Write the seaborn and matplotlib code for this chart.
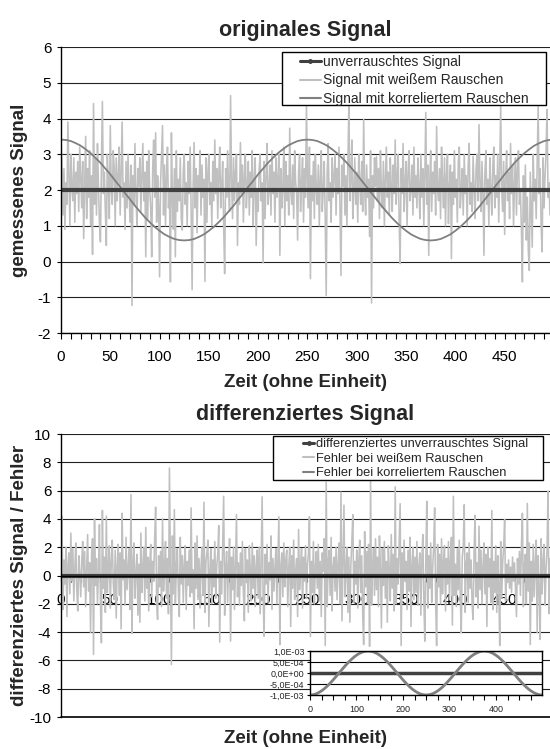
import numpy as np
import matplotlib
matplotlib.use("Agg")
import matplotlib.pyplot as plt
from matplotlib.lines import Line2D
from matplotlib.patches import Rectangle
from matplotlib.ticker import MultipleLocator, FuncFormatter
import seaborn as sns

# --- values ---
# top: measured signal with white noise, one sample per time unit
white_noise_signal = [
    3.4, 2.7, 1.3, 2.6, 0.9, 2.2, 1.6, 3.9, 2.4, 1.0, 3.0, 2.1, 1.7, 2.9, 1.1, 2.5, 1.9, 2.8, 1.4, 3.2,
    2.3, 1.5, 2.8, 0.64, 2.0, 3.5, 1.2, 2.6, 1.8, 3.1, 1.0, 2.4, 0.2, 4.42, 1.6, 2.9, 1.3, 3.3, 2.1, 1.1,
    0.55, 2.7, 4.48, 1.9, 2.5, 1.4, 0.45, 3.0, 2.2, 1.2, 3.8, 2.0, 1.6, 3.1, 2.6, 1.0, 2.9, 1.7, 2.4, 3.2,
    1.3, 2.5, 3.9, 1.8, 2.2, 0.9, 2.8, 1.5, 3.0, 2.0, 1.1, 2.7, -1.23, 2.4, 1.6, 3.3, 1.9, 1.0, 2.6, 2.1,
    2.9, 1.4, 2.3, 3.3, 1.7, 2.5, 0.13, 2.8, 1.2, 3.1, 2.0, 1.5, 0.13, 2.6, 3.4, 1.8, 3.6, 1.1, 2.4, 1.6,
    -0.43, 2.2, 3.0, 3.8, 1.3, 2.7, 1.0, 2.4, 3.2, 1.5, 2.0, -0.57, 3.6, 1.8, 0.9, 2.6, 0.13, 3.1, 1.4, 2.3,
    1.7, 2.9, 1.2, 0.88, 2.5, 3.0, 1.6, 2.2, 1.0, 2.8, 1.9, 3.2, 1.4, -0.79, 2.1, 3.33, 1.5, 2.6, 0.8, 2.4,
    2.0, 3.1, 1.3, 2.7, 1.8, 2.3, -0.56, 2.9, 1.1, 2.5, 3.0, 1.6, 2.2, 1.0, 2.8, 1.7, 3.4, 1.9, 2.6, 1.2,
    2.4, 3.2, 1.5, 2.1, 2.8, 1.0, -0.34, 2.6, 1.8, 3.1, 2.0, 1.4, 4.64, 2.3, 1.2, 2.9, 1.7, 2.5, 3.0, 0.45,
    2.2, 1.6, 3.33, 1.9, 2.7, 1.1, 2.4, 3.0, 1.5, 2.1, 2.8, 1.3, 2.5, 1.8, 3.1, 1.0, 2.3, 2.9, 0.45, 2.0,
    1.4, 2.6, 3.0, 1.7, 2.2, -0.04, 2.8, 1.2, 2.4, 3.3, 1.6, 2.0, 2.7, 1.3, 3.1, 1.9, 2.5, 1.1, 2.9, 1.8,
    2.3, 3.0, 0.17, 2.6, 1.5, 2.1, 3.2, 1.0, 2.8, 1.7, 2.4, 1.3, 3.73, 2.0, 1.6, 2.7, 1.2, 3.1, 2.2, 1.9,
    0.6, 2.5, 3.0, 1.4, 2.2, 2.9, 1.1, 2.6, 1.8, 4.43, 2.1, 1.5, 3.2, -0.48, 2.4, 1.7, 2.8, 1.2, 3.0, 2.0,
    1.6, 2.7, 1.0, 2.3, 3.1, 1.4, 2.0, 2.8, 1.2, -0.95, 2.5, 3.3, 1.7, 2.2, 1.1, 2.9, 1.8, 2.4, 3.0, 1.3,
    2.6, 1.9, 3.2, 1.5, -0.39, 2.7, 2.1, 3.0, 1.3, 2.4, 1.0, 2.8, 4.39, 1.7, 2.3, 3.4, 1.2, 2.0, 2.9, 1.6,
    2.5, 1.1, 3.0, 2.2, 1.6, 2.8, 1.4, 3.97, 2.0, 1.3, 2.7, 1.8, 2.3, 0.7, 3.1, -1.16, 2.4, 1.5, 2.9, 2.1,
    2.94, 1.7, 2.6, 1.2, 3.1, 2.0, 1.5, 2.8, 1.0, 2.3, 3.2, 1.8, 2.5, 1.3, 2.9, 2.1, 1.4, 2.7, 1.9, 3.4,
    1.6, 2.4, 3.0, 1.1, -0.06, 2.6, 1.9, 3.3, 1.4, 2.2, 2.8, 1.0, 2.5, 3.1, 1.7, 2.0, 2.7, 1.3, 3.2, 1.8,
    2.4, 1.5, 2.9, 2.1, 1.2, 3.0, 1.8, 2.6, 1.0, 2.3, 4.17, 1.6, 2.7, 0.17, 2.2, 3.1, 1.4, 2.5, 1.9, 2.8,
    1.3, 3.78, 2.0, 1.7, 2.6, 1.2, 3.2, 2.2, 1.5, 2.9, 1.0, 2.4, 3.0, 1.06, 2.1, 2.7, 0.08, 2.5, 1.6, 3.1,
    1.8, 2.3, 1.1, 2.8, 3.2, 1.5, 2.0, 2.6, 1.3, 3.0, 1.9, 2.4, 1.0, 2.7, 3.3, 1.6, 2.2, 1.4, 2.94, 2.1,
    1.2, 2.6, 3.0, 1.7, 3.83, 2.2, 1.4, 2.8, 1.9, 0.17, 2.5, 3.1, 1.6, 2.3, 1.0, 2.9, 2.0, 1.3, 2.7, 3.2,
    1.5, 2.4, 1.8, 3.0, 1.1, 2.6, 4.36, 2.0, 1.4, 2.8, 0.76, 2.3, 3.1, 1.7, 2.5, 1.2, 3.3, 1.9, 2.7, 1.0,
    2.2, 2.9, 1.3, 2.6, 3.1, 1.6, 2.0, 0.9, -0.57, 2.4, 1.1, 2.7, 0.6, 1.8, 0.3, -0.25, 2.5, 1.4, 0.4, 3.0,
    1.7, 2.3, 1.2, 2.8, 4.34, 1.9, 2.6, 1.0, 0.27, 2.9, 1.5, 2.4, 3.1, 4.25, 1.8, 2.2, 1.3, 2.7, 3.4, 2.0,
]

# top: signal with correlated noise, read every 5 time units (0..500)
correlated_signal = [
    3.41, 3.40, 3.37, 3.31, 3.24, 3.14, 3.03, 2.90, 2.76, 2.60, 2.44, 2.26, 2.09, 1.91, 1.74, 1.56, 1.40,
    1.24, 1.10, 0.97, 0.86, 0.76, 0.69, 0.63, 0.60, 0.59, 0.60, 0.63, 0.69, 0.76, 0.86, 0.97, 1.10, 1.24,
    1.40, 1.56, 1.74, 1.91, 2.09, 2.26, 2.44, 2.60, 2.76, 2.90, 3.03, 3.14, 3.24, 3.31, 3.37, 3.40, 3.41,
    3.40, 3.37, 3.31, 3.24, 3.14, 3.03, 2.90, 2.76, 2.60, 2.44, 2.26, 2.09, 1.91, 1.74, 1.56, 1.40,
    1.24, 1.10, 0.97, 0.86, 0.76, 0.69, 0.63, 0.60, 0.59, 0.60, 0.63, 0.69, 0.76, 0.86, 0.97, 1.10, 1.24,
    1.40, 1.56, 1.74, 1.91, 2.09, 2.26, 2.44, 2.60, 2.76, 2.90, 3.03, 3.14, 3.24, 3.31, 3.37, 3.40, 3.41,
]
correlated_step = 5

clean_time = [0, 500]
clean_signal = [2.0, 2.0]
clean_derivative = [0.0, 0.0]

# bottom: error of the differentiated white-noise signal
white_noise_error = [
    3.0, 4.2, -2.4, 1.1, -0.6, 2.0, -2.9, 0.8, 1.6, -1.3, 3.0, -0.4, 1.9, -1.8, 0.5, 2.3, -1.0, -2.5, 1.4, 0.2,
    -1.5, 1.0, 2.4, -0.8, 1.7, -2.2, 0.4, 2.9, -1.1, 0.9, -4.05, 1.5, 2.6, -5.58, 4.0, -0.7, 1.2, -2.0, 0.3, 3.6,
    -1.9, -4.76, 4.6, -0.9, 1.3, -2.6, 4.2, -1.2, 0.6, 2.1, -2.3, 1.0, 2.5, -0.5, -1.7, 1.8, -3.0, 0.7, 2.2, -1.4,
    1.6, -3.77, 4.4, -0.3, 1.1, -2.1, 2.7, -1.0, 0.4, 1.9, -2.4, 5.72, -4.1, 0.9, 2.3, -1.6, 0.2, 1.5, -2.8, 0.8,
    -3.3, 3.0, -1.2, 0.6, 2.0, -1.8, 3.4, -0.9, 1.3, -2.5, 0.7, 2.2, -1.5, 1.0, -0.4, 2.6, 4.83, -2.0, -3.1, 1.4,
    -0.8, 1.7, -2.2, 4.0, -1.1, 0.5, 2.4, -1.6, 1.2, -2.7, 7.6, 0.9, -6.29, 2.8, -1.3, 4.66, -2.0, 0.6, 1.9, -1.0,
    -2.9, 2.7, -0.6, 1.4, -1.9, 0.8, 2.1, -2.4, 1.0, -0.7, 1.8, -1.5, 4.78, -1.2, 0.4, -3.77, 2.3, -0.9, 2.8, -1.7,
    1.2, -2.3, 0.6, 2.0, -1.4, 5.18, -2.6, 0.9, 1.6, 2.5, -3.6, 0.3, 1.9, -2.0, 1.1, -0.8, 2.4, -1.6, 0.7, 1.5,
    3.53, -4.7, 1.0, -1.3, 2.2, 5.6, -2.8, 0.5, 1.7, -1.9, 0.8, 2.6, -4.64, 1.3, -1.0, 2.0, -2.4, 0.6, 4.31, -1.5,
    0.9, -2.1, 1.6, -0.7, 2.4, -1.2, -3.2, 1.9, -0.5, 1.1, -2.6, 2.1, 0.4, -1.8, 2.3, -0.9, 1.4, -2.2, 0.7, 1.8,
    -1.6, 2.0, -2.7, 0.8, 5.56, -1.4, -4.29, 1.5, -0.6, 2.2, -1.9, 0.9, -0.3, 2.8, -2.4, 1.2, -1.1, 0.6, 1.9, -2.0,
    1.0, 4.15, -4.88, 0.7, 1.6, -1.5, 2.3, -0.8, 1.1, 1.8, -2.2, 0.5, 2.0, -3.6, 1.4, -0.9, 2.5, -1.7, 0.3, 1.2,
    -2.9, 3.25, -1.0, 0.6, 1.9, -2.3, 1.3, -0.4, 2.1, -1.6, 0.8, 1.5, 4.15, -4.3, 1.0, -1.2, 2.4, -2.0, 0.5, 1.7,
    -0.9, 2.2, -1.8, 1.0, -2.9, 1.6, 0.3, 2.6, -4.95, 6.6, -2.2, 0.9, 1.8, -1.4, 2.7, -2.5, 0.6, 1.3, -1.1, 2.0,
    -1.7, 0.8, 2.3, -2.0, 5.9, -3.2, 1.1, 4.97, -1.5, 0.4, 2.0, -2.6, 1.3, -3.3, 0.7, 2.4, 4.3, -1.9, 1.0, -0.6,
    1.8, -2.3, 0.9, 2.5, -1.2, 1.4, -2.7, -4.88, 3.1, -0.8, 1.7, -1.9, 2.2, -5.0, 6.7, -2.1, 0.5, 1.9, -1.4, 2.6,
    -1.0, 1.3, -2.2, 2.8, 0.6, -3.7, 1.9, -0.7, 2.4, -1.6, 1.0, -3.3, 2.1, 0.4, -1.8, 2.9, -0.9, 1.5, -2.5, 6.27,
    -2.0, 1.2, -0.6, 2.2, 5.08, -4.95, 1.6, -1.3, 2.5, -0.4, 1.0, -2.4, 1.8, -1.1, 2.7, -3.6, 0.8, 2.0, -1.7, 1.3,
    -1.2, 2.4, -2.1, 0.7, 1.6, -2.8, 1.1, 2.9, -1.5, -4.64, 0.9, 5.25, -2.3, 1.4, -0.9, 2.3, -1.9, 0.6, 2.0, 4.78,
    -1.8, -4.95, 2.2, -0.8, 1.5, -2.0, 2.6, -1.3, 0.9, 2.1, -2.5, 1.2, -0.6, 2.4, -1.7, 1.0, 2.7, -3.5, 5.6, -1.4,
    0.8, -2.2, 1.9, -1.0, 2.5, -1.6, -4.05, 1.3, 2.0, 5.0, -2.6, 0.7, 1.6, -1.9, 2.3, -0.9, 1.1, -2.1, -3.1, 1.7,
    4.26, -1.5, 0.9, -2.3, 3.49, -1.0, 1.8, -2.0, 0.6, 2.3, -1.3, 1.5, -3.6, 2.0, -0.8, 1.2, -1.9, 4.6, -2.4, 1.0,
    -1.2, 2.1, -2.6, 1.4, -0.7, -4.95, 2.4, -1.6, 0.9, 2.0, 3.96, -1.8, 0.8, -0.5, 1.1, -0.9, 0.6, -1.2, 1.3, -0.4,
    0.9, -1.0, -2.9, 1.2, -0.6, 1.7, -1.4, 2.0, 4.4, -2.2, 0.7, 1.5, -2.0, 5.1, -1.1, 2.3, -4.88, 1.0, -1.8, 2.2,
    -1.5, 0.8, 2.5, -4.05, 1.4, -0.9, -4.52, 2.6, -1.3, 1.0, 2.2, -2.1, 0.5, 1.8, 5.96, -2.7, 1.2, -1.6, 2.0, -0.8,
]

# bottom inset: error of the differentiated correlated-noise signal, every 5 time units
correlated_error = [
    -1.0e-3, -9.92e-4, -9.69e-4, -9.30e-4, -8.76e-4, -8.09e-4, -7.29e-4, -6.37e-4, -5.36e-4, -4.26e-4,
    -3.09e-4, -1.87e-4, -6.3e-5, 6.3e-5, 1.87e-4, 3.09e-4, 4.26e-4, 5.36e-4, 6.37e-4, 7.29e-4,
    8.09e-4, 8.76e-4, 9.30e-4, 9.69e-4, 9.92e-4, 1.0e-3, 9.92e-4, 9.69e-4, 9.30e-4, 8.76e-4,
    8.09e-4, 7.29e-4, 6.37e-4, 5.36e-4, 4.26e-4, 3.09e-4, 1.87e-4, 6.3e-5, -6.3e-5, -1.87e-4,
    -3.09e-4, -4.26e-4, -5.36e-4, -6.37e-4, -7.29e-4, -8.09e-4, -8.76e-4, -9.30e-4, -9.69e-4, -9.92e-4,
    -1.0e-3, -9.92e-4, -9.69e-4, -9.30e-4, -8.76e-4, -8.09e-4, -7.29e-4, -6.37e-4, -5.36e-4, -4.26e-4,
    -3.09e-4, -1.87e-4, -6.3e-5, 6.3e-5, 1.87e-4, 3.09e-4, 4.26e-4, 5.36e-4, 6.37e-4, 7.29e-4,
    8.09e-4, 8.76e-4, 9.30e-4, 9.69e-4, 9.92e-4, 1.0e-3, 9.92e-4, 9.69e-4, 9.30e-4, 8.76e-4,
    8.09e-4, 7.29e-4, 6.37e-4, 5.36e-4, 4.26e-4, 3.09e-4, 1.87e-4, 6.3e-5, -6.3e-5, -1.87e-4,
    -3.09e-4, -4.26e-4, -5.36e-4, -6.37e-4, -7.29e-4, -8.09e-4, -8.76e-4, -9.30e-4, -9.69e-4, -9.92e-4,
    -1.0e-3,
]

inset_yticks = [-1e-3, -5e-4, 0.0, 5e-4, 1e-3]

top_labels = ["unverrauschtes Signal", "Signal mit weißem Rauschen", "Signal mit korreliertem Rauschen"]
bottom_labels = ["differenziertes unverrauschtes Signal", "Fehler bei weißem Rauschen",
                 "Fehler bei korreliertem Rauschen"]

DARK = "#404040"
LIGHT = "#c0c0c0"
MID = "#808080"
GRID = "#222222"

sns.set_theme(style="white")
plt.rcParams["font.family"] = ["Liberation Sans", "DejaVu Sans"]
plt.rcParams["axes.unicode_minus"] = False

time = np.arange(len(white_noise_signal))
corr_time = np.arange(len(correlated_signal)) * correlated_step
err_time = np.arange(len(white_noise_error))


def style_main(ax, ylim, ystep):
    ax.set_xlim(0, 496)
    ax.set_ylim(*ylim)
    ax.xaxis.set_major_locator(MultipleLocator(50))
    ax.xaxis.set_minor_locator(MultipleLocator(10))
    ax.yaxis.set_major_locator(MultipleLocator(ystep))
    ax.grid(False)
    ax.grid(axis="y", color=GRID, lw=0.8)
    ax.set_axisbelow(True)
    ax.spines["top"].set_visible(False)
    ax.spines["right"].set_visible(False)
    for s in ("left", "bottom"):
        ax.spines[s].set_color("black")
        ax.spines[s].set_linewidth(1.0)
    ax.tick_params(axis="x", which="both", bottom=True, direction="out", length=4.5,
                   width=0.8, color="black", labelsize=11, pad=8, labelcolor="black")
    ax.tick_params(axis="y", left=True, direction="out", length=3, width=0.8,
                   color="black", labelsize=11, pad=4, labelcolor="black")


def legend_box(ax, box, anchor, labels, fontsize, handlelength, spacing):
    ax.add_patch(Rectangle(box[:2], box[2], box[3], transform=ax.transAxes,
                           facecolor="white", edgecolor="black", lw=1.0, zorder=4))
    handles = [
        Line2D([], [], color=DARK, lw=2.2, marker="o", markersize=2.5),
        Line2D([], [], color=LIGHT, lw=1.5),
        Line2D([], [], color=MID, lw=1.5),
    ]
    leg = ax.legend(handles, labels, loc="upper left", bbox_to_anchor=anchor, frameon=False,
                    fontsize=fontsize, handlelength=handlelength, handletextpad=0.15,
                    labelspacing=spacing, borderpad=0, borderaxespad=0)
    leg.set_zorder(5)


fig = plt.figure(figsize=(5.5, 7.49), dpi=100)
ax1 = fig.add_axes([0.1109, 0.5554, 0.8891, 0.3818])
ax2 = fig.add_axes([0.1109, 0.0427, 0.8891, 0.3778])

# --- top: original signal ---
sns.lineplot(x=time, y=white_noise_signal, ax=ax1, color=LIGHT, lw=1.15)
sns.lineplot(x=corr_time, y=correlated_signal, ax=ax1, color=MID, lw=1.3)
sns.lineplot(x=clean_time, y=clean_signal, ax=ax1, color=DARK, lw=3.0)
style_main(ax1, (-2, 6), 1)
ax1.set_title("originales Signal", fontsize=15.5, fontweight="bold", pad=8)
ax1.set_xlabel("Zeit (ohne Einheit)", fontsize=13.5, fontweight="bold")
ax1.set_ylabel("gemessenes Signal", fontsize=13.5, fontweight="bold")
ax1.xaxis.set_label_coords(0.5, -0.145)
ax1.yaxis.set_label_coords(-0.068, 0.5)
legend_box(ax1, (0.452, 0.797, 0.540, 0.1853), (0.4888, 0.972), top_labels, 10, 1.5, 0.32)

# --- bottom: differentiated signal ---
sns.lineplot(x=err_time, y=white_noise_error, ax=ax2, color=LIGHT, lw=1.15)
sns.lineplot(x=clean_time, y=clean_derivative, ax=ax2, color=DARK, lw=3.0)
style_main(ax2, (-10, 10), 2)
ax2.spines["bottom"].set_position(("data", 0))
ax2.axhline(-10, color="black", lw=1.2, clip_on=False)
ax2.set_title("differenziertes Signal", fontsize=15.5, fontweight="bold", pad=10)
ax2.set_xlabel("Zeit (ohne Einheit)", fontsize=13.5, fontweight="bold")
ax2.set_ylabel("differenziertes Signal / Fehler", fontsize=13.5, fontweight="bold")
ax2.xaxis.set_label_coords(0.5, -0.045)
ax2.yaxis.set_label_coords(-0.068, 0.5)
legend_box(ax2, (0.4335, 0.8375, 0.552, 0.1555), (0.495, 0.986), bottom_labels, 9.3, 0.85, 0.2)

# --- inset: error with correlated noise ---
inset = fig.add_axes([0.5636, 0.0721, 0.4218, 0.0587])
inset.set_facecolor("white")
sns.lineplot(x=clean_time, y=clean_derivative, ax=inset, color=DARK, lw=2.5)
sns.lineplot(x=corr_time, y=correlated_error, ax=inset, color=MID, lw=2.0)
inset.set_xlim(0, 499)
inset.set_ylim(-1e-3, 1e-3)
inset.set_yticks(inset_yticks)
inset.yaxis.set_major_formatter(FuncFormatter(lambda v, p: f"{v:.1E}".replace(".", ",")))
inset.xaxis.set_major_locator(MultipleLocator(100))
inset.xaxis.set_minor_locator(MultipleLocator(25))
inset.grid(False)
inset.grid(axis="y", color="black", lw=0.8)
inset.set_axisbelow(True)
for s in inset.spines.values():
    s.set_color("black")
    s.set_linewidth(1.0)
inset.tick_params(axis="x", which="both", bottom=True, direction="out", length=3.5,
                  width=0.8, color="black", labelsize=6.5, pad=4)
inset.tick_params(axis="y", left=True, direction="out", length=2, width=0.8,
                  color="black", labelsize=6.5, pad=2)

fig.savefig("out.png", dpi=100)
